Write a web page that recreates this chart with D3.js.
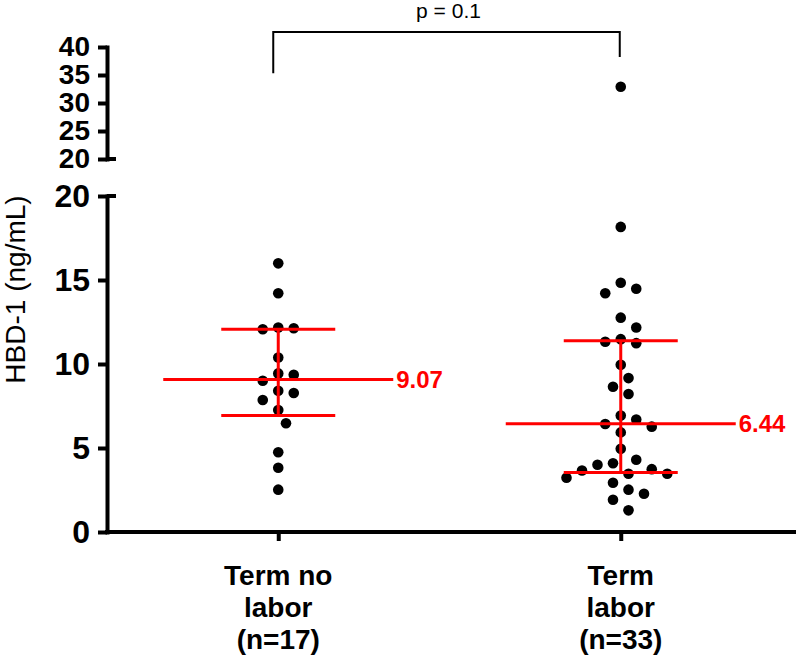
<!DOCTYPE html>
<html>
<head>
<meta charset="utf-8">
<script src="https://cdn.jsdelivr.net/npm/d3@7"></script>
<style>
  html, body { margin: 0; padding: 0; background: #fff; }
  svg { display: block; font-family: "Liberation Sans", Arial, sans-serif; }
</style>
</head>
<body>
<svg id="chart" width="800" height="658"></svg>
<script>
// ---- data ----
const categories = ["Term no labor (n=17)", "Term labor (n=33)"];
const categoryLines = [["Term no", "labor", "(n=17)"], ["Term", "labor", "(n=33)"]];
const termNoLabor = [15.99, 14.21, 12.17, 12.13, 12.07, 10.39, 9.44, 9.36, 9.0, 8.41, 8.27, 7.86, 7.26, 6.47, 4.75, 3.82, 2.52];
const termLabor = [32.9, 18.16, 14.84, 14.48, 14.21, 12.76, 12.17, 11.48, 11.32, 11.24, 9.95, 9.16, 8.65, 8.21,
  6.93, 6.69, 6.43, 6.27, 5.93, 4.95, 4.30, 4.09, 4.0, 3.74, 3.66, 3.47, 3.47, 3.23, 2.93, 2.52, 2.28, 1.92, 1.29];
const medians = [9.07, 6.44];
const upperQuartiles = [12.07, 11.38];
const lowerQuartiles = [6.94, 3.54];
const medianLabels = ["9.07", "6.44"];
const lowerTicks = [0, 5, 10, 15, 20];
const upperTicks = [20, 25, 30, 35, 40];
const yTitle = "HBD-1 (ng/mL)";
const pLabel = "p = 0.1";

// ---- scales ----
const svg = d3.select("#chart");
const x = d3.scalePoint().domain(categories).range([107, 792]).padding(0.5);
const yLow = d3.scaleLinear().domain([0, 20]).range([532, 196]);
const yHigh = d3.scaleLinear().domain([20, 40]).range([159, 47]);
const yPos = v => v > 20 ? yHigh(v) : yLow(v);

const red = "#ff0000";
const axisX = x.range()[0];

// ---- y axes ----
function styleAxis(g, fs) {
  g.select(".domain").attr("stroke", "#000").attr("stroke-width", 4).attr("stroke-linecap", "square");
  g.selectAll(".tick line").attr("stroke", "#000").attr("stroke-width", 4);
  g.selectAll(".tick text").attr("fill", "#000").attr("font-size", fs).attr("font-weight", "bold")
    .attr("font-family", "Liberation Sans, Arial, sans-serif");
}
const gLow = svg.append("g").attr("transform", `translate(${axisX},0)`)
  .call(d3.axisLeft(yLow).tickValues(lowerTicks).tickSize(9).tickSizeOuter(0).tickPadding(8).tickFormat(d3.format("d")));
styleAxis(gLow, 32);
const gHigh = svg.append("g").attr("transform", `translate(${axisX},0)`)
  .call(d3.axisLeft(yHigh).tickValues(upperTicks).tickSize(9).tickSizeOuter(0).tickPadding(8).tickFormat(d3.format("d")));
styleAxis(gHigh, 28);

// break marks (ticks extending right at the 20 ends of both segments)
svg.append("line").attr("x1", axisX).attr("x2", axisX + 9).attr("y1", yLow(20)).attr("y2", yLow(20))
  .attr("stroke", "#000").attr("stroke-width", 4);
svg.append("line").attr("x1", axisX).attr("x2", axisX + 9).attr("y1", yHigh(20)).attr("y2", yHigh(20))
  .attr("stroke", "#000").attr("stroke-width", 4);

// ---- x axis ----
const gx = svg.append("g").attr("transform", `translate(0,${yLow(0)})`)
  .call(d3.axisBottom(x).tickSize(9).tickSizeOuter(0).tickFormat(""));
gx.select(".domain").attr("stroke", "#000").attr("stroke-width", 4).attr("stroke-linecap", "square")
  .attr("d", `M${axisX},0H${x.range()[1] + 2}`);
gx.selectAll(".tick line").attr("stroke", "#000").attr("stroke-width", 4);

categories.forEach((c, i) => {
  const t = svg.append("text").attr("x", x(c)).attr("y", 585).attr("text-anchor", "middle")
    .attr("font-size", 28).attr("font-weight", "bold").attr("fill", "#000");
  categoryLines[i].forEach((ln, j) => {
    t.append("tspan").attr("x", x(c)).attr("dy", j === 0 ? 0 : 32).text(ln);
  });
});

// y title
svg.append("text").attr("transform", `translate(25,${(yHigh(40) + yLow(0)) / 2}) rotate(-90)`)
  .attr("text-anchor", "middle").attr("font-size", 28).attr("fill", "#000").text(yTitle);

// ---- beeswarm points ----
const r = 5.3, step = 7.75, minDist = 15.2;
function swarm(values, cx) {
  const placed = [];
  const sorted = values.slice().sort((a, b) => b - a);
  sorted.forEach(v => {
    const py = yPos(v);
    for (let k = 0; k < 40; k++) {
      const off = k === 0 ? 0 : (k % 2 === 1 ? 1 : -1) * Math.ceil(k / 2) * step;
      const px = cx + off;
      if (placed.every(p => Math.hypot(p.x - px, p.y - py) >= minDist)) {
        placed.push({ x: px, y: py, v });
        break;
      }
    }
  });
  return placed;
}
const groups = [termNoLabor, termLabor];
groups.forEach((vals, i) => {
  const pts = swarm(vals, x(categories[i]));
  svg.append("g").selectAll("circle").data(pts).join("circle")
    .attr("cx", d => d.x).attr("cy", d => d.y).attr("r", r).attr("fill", "#000");
});

// ---- median + IQR ----
categories.forEach((c, i) => {
  const cx = x(c);
  const g = svg.append("g").attr("stroke", red).attr("stroke-width", 3);
  g.append("line").attr("x1", cx - 115).attr("x2", cx + 115).attr("y1", yLow(medians[i])).attr("y2", yLow(medians[i]));
  g.append("line").attr("x1", cx - 57).attr("x2", cx + 57).attr("y1", yLow(upperQuartiles[i])).attr("y2", yLow(upperQuartiles[i]));
  g.append("line").attr("x1", cx - 57).attr("x2", cx + 57).attr("y1", yLow(lowerQuartiles[i])).attr("y2", yLow(lowerQuartiles[i]));
  g.append("line").attr("x1", cx).attr("x2", cx).attr("y1", yLow(upperQuartiles[i])).attr("y2", yLow(lowerQuartiles[i]));
  svg.append("text").attr("x", cx + 118).attr("y", yLow(medians[i])).attr("dy", "0.35em")
    .attr("font-size", 24).attr("font-weight", "bold").attr("fill", red).text(medianLabels[i]);
});

// ---- significance bracket ----
const bx1 = x(categories[0]) - 5, bx2 = x(categories[1]) - 1;
svg.append("path")
  .attr("d", `M${bx1},${yHigh(35.3)}V32H${bx2}V${yHigh(38.2)}`)
  .attr("fill", "none").attr("stroke", "#000").attr("stroke-width", 2);
svg.append("text").attr("x", (bx1 + bx2) / 2 + 2).attr("y", 18).attr("text-anchor", "middle")
  .attr("font-size", 21).attr("fill", "#000").text(pLabel);
</script>
</body>
</html>
